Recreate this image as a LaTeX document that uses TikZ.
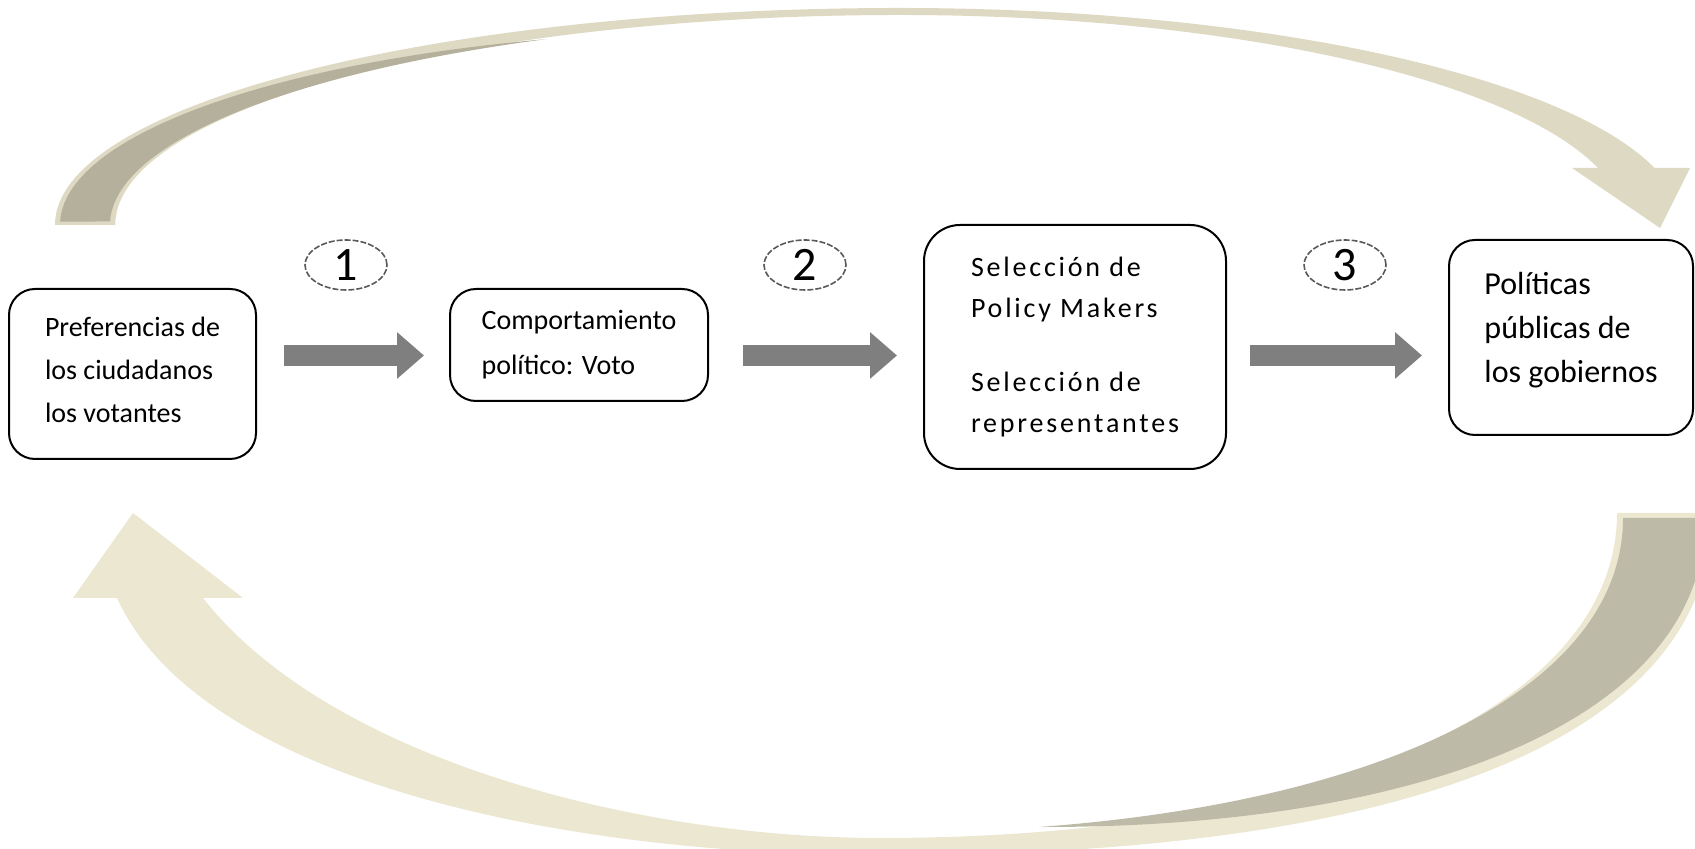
\documentclass[tikz,border=0pt]{standalone}
\usepackage{fontspec}
\setmainfont{Carlito}
\newfontfamily\spacedfont[LetterSpace=10]{Carlito}
\usetikzlibrary{arrows.meta,shapes.geometric}
\definecolor{tanfront}{RGB}{221,217,195}
\definecolor{tanback}{RGB}{181,176,155}
\definecolor{creamfront}{RGB}{235,231,209}
\definecolor{creamback}{RGB}{190,186,168}
\definecolor{arrowgray}{RGB}{127,127,127}
\begin{document}
\begin{tikzpicture}[x=0.5pt, y=0.5pt,
    box/.style={draw, line width=1pt, rounded corners=13pt, align=left, inner sep=0pt},
    stepnum/.style={ellipse, draw=black!65, dash pattern=on 3pt off 1pt, line width=0.8pt,
      minimum width=41pt, minimum height=25pt, inner sep=0pt,
      font=\fontsize{24}{24}\selectfont},
    blockarrow/.style={line width=10.5pt, arrowgray,
      -{Triangle[length=13.5pt, width=22.5pt]}}]
      \useasboundingbox (0,0) rectangle (1695,849);
      \clip (0,0) rectangle (1695,849);
      % feedback arrow on top
      \fill [tanfront] (55,624) arc [start angle=180, end angle=90, x radius=845, y radius=217]
        arc [start angle=90, end angle=15.23, x radius=782, y radius=217]
        -- (1690,681) -- (1660,621) -- (1572,681) -- (1598,681)
        arc [start angle=15.75, end angle=90, x radius=725, y radius=210]
        arc [start angle=90, end angle=180, x radius=785, y radius=210] -- cycle;
      \fill [tanback] (757,624) ++(179:697 and 195)
        arc [start angle=179, end angle=107.6, x radius=697, y radius=195]
        arc [start angle=116.6, end angle=179, x radius=790, y radius=208] -- cycle;
      % feedback arrow below
      \fill [creamfront] (1617,336) .. controls (1617,141) and (1322,11) .. (880,11)
        .. controls (640,11) and (330,89) .. (203,251) -- (243,251) -- (133,336)
        -- (73,251) -- (117,251) .. controls (200,69) and (560,-6) .. (880,-6)
        .. controls (1400,-8) and (1712,109) .. (1712,336) -- cycle;
      \fill [creamback] (1705,331) .. controls (1705,129) and (1420,21) .. (1039,22)
        .. controls (1392,48) and (1623,165) .. (1623,331) -- cycle;
      % boxes
      \node [box, minimum width=123.5pt, minimum height=85pt,
        font=\fontsize{14}{21.5}\selectfont] (pref) at (132.5,475)
        {Preferencias de\\los ciudadanos\\los votantes\\[-17pt]\mbox{}};
      \node [box, minimum width=129pt, minimum height=56pt,
        font=\fontsize{14}{22.5}\selectfont] (voto) at (579,504)
        {Comportamiento\\político: Voto};
      \node [box, rounded corners=18pt, minimum width=151pt, minimum height=122pt,
        font=\spacedfont\fontsize{14}{20.5}\selectfont] (sel) at (1075,502)
        {Selección de\\Policy Makers\\[16.5pt]Selección de\\representantes};
      \node [box, minimum width=122pt, minimum height=97.5pt,
        font=\fontsize{16}{22}\selectfont] (pol) at (1571,511.5)
        {Políticas\\públicas de\\los gobiernos\\[-12pt]\mbox{}};
      % steps
      \coordinate (r1a) at (284,493.5);
      \coordinate (r1b) at (424,493.5);
      \coordinate (r2a) at (743,493.5);
      \coordinate (r2b) at (897,493.5);
      \coordinate (r3a) at (1250,493.5);
      \coordinate (r3b) at (1422,493.5);
      \draw [blockarrow] (r1a) -- (r1b);
      \draw [blockarrow] (r2a) -- (r2b);
      \draw [blockarrow] (r3a) -- (r3b);
      \node [stepnum] (n1) at (346,584) {1};
      \node [stepnum] (n2) at (805,584) {2};
      \node [stepnum] (n3) at (1345,584) {3};
    \end{tikzpicture}
\end{document}
